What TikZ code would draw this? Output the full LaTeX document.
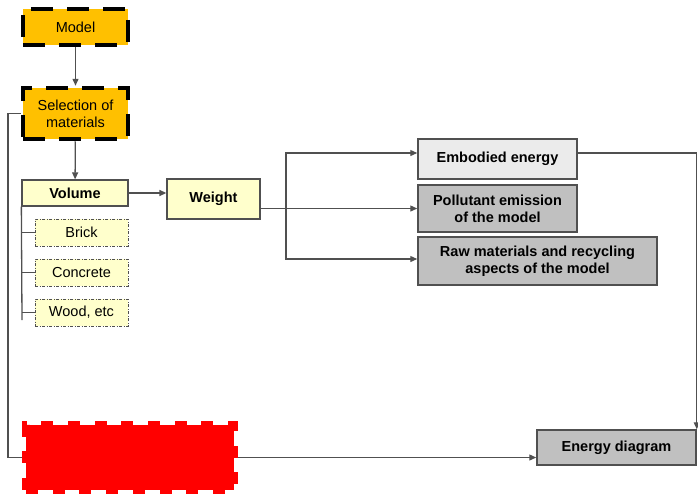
\documentclass[tikz,border=0pt]{standalone}
\usepackage{fontspec}
\setmainfont{Liberation Sans}
\usepackage{xcolor}
\usetikzlibrary{arrows.meta}
\usetikzlibrary{positioning}

\definecolor{gold}{HTML}{FFC000}
\definecolor{paleyellow}{HTML}{FFFFCC}
\definecolor{lightgrey}{HTML}{EBEBEB}
\definecolor{midgrey}{HTML}{C0C0C0}
\definecolor{linegrey}{HTML}{505050}

\begin{document}
\begin{tikzpicture}[
  x=1pt, y=-1pt,
  every node/.style={font=\fontsize{14.5}{17}\selectfont, align=center, inner sep=0pt},
  goldbox/.style={fill=gold, draw=black, line width=4.5pt, dash pattern=on 22pt off 14pt},
  yelbox/.style={fill=paleyellow, draw=linegrey, line width=1.3pt, font=\fontsize{14.5}{17}\selectfont\bfseries},
  subbox/.style={fill=paleyellow, draw=linegrey, line width=0.9pt,
    dash pattern=on 3pt off 1.5pt on 1pt off 1.5pt, minimum width=93pt, minimum height=27pt},
  greybox/.style={fill=midgrey, draw=linegrey, line width=1.5pt, font=\fontsize{14.5}{17}\selectfont\bfseries},
  redbox/.style={fill=red, draw=red, line width=8pt, dash pattern=on 12pt off 14.7pt},
  every path/.style={draw=linegrey, line width=1.3pt},
]
\tikzset{>={Triangle[length=7pt, width=6pt]}}
\path[use as bounding box, draw=none] (0,0) rectangle (698,498);

\node[goldbox, minimum width=105pt, minimum height=36pt] (model) at (75.5,27)  {Model};
\node[goldbox, minimum width=105pt, minimum height=51pt] (sel) at (75.5,113.5) {Selection of\\materials};
\node[yelbox, minimum width=106pt, minimum height=26pt] (vol) at (75,193) {Volume};
\node[yelbox, minimum width=93pt, minimum height=40pt] (wt) at (213.5,199) {Weight};
\node[subbox] (brick) at (81.5,232.5) {Brick};
\node[subbox] (conc) at (81.5,272.5) {Concrete};
\node[subbox] (wood) at (81.5,312.5) {Wood, etc};
\node[greybox, fill=lightgrey, minimum width=159pt, minimum height=40pt] (emb) at (497.5,159) {Embodied energy};
\node[greybox, minimum width=159pt, minimum height=47pt] (pol) at (497.5,208.5) {Pollutant emission\\of the model};
\node[greybox, minimum width=239pt, minimum height=48pt] (raw) at (537.5,261) {Raw materials and recycling\\aspects of the model};
\node[greybox, minimum width=159pt, minimum height=35pt] (energy) at (616.5,447.5) {Energy diagram};
\node[redbox, minimum width=208pt, minimum height=65pt] (red) at (130,457.5) {};

\coordinate (volend) at (22,320);
\coordinate (fork) at (286,208.5);
\coordinate (loop) at (8,113.5);

\draw[->] (model) -- (sel);
\draw[->] (sel) -- (vol);
\draw[->] (vol) -- (vol -| wt.west);
\draw (vol.south west) -- (volend);
\draw (brick.west -| volend) -- (brick.west);
\draw (conc.west -| volend) -- (conc.west);
\draw (wood.west -| volend) -- (wood.west);
\draw (wt.east |- fork) -- (fork);
\draw[->] (fork) -- (pol.west);
\draw[->] (fork) |- ([yshift=6pt]emb.west);
\draw[->] (fork) |- ([yshift=2pt]raw.west);
\draw[->] ([yshift=6pt]emb.east) -| (energy.north east);
\draw (sel.west) -- (loop) |- (red.west);
\draw[->] (red.east) -- (energy.west |- red.east);
\end{tikzpicture}
\end{document}
